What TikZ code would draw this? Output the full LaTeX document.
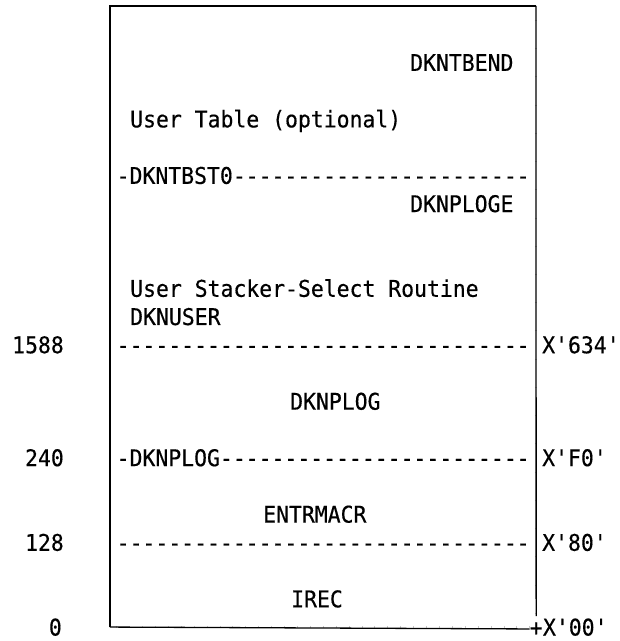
\documentclass[tikz,border=0pt]{standalone}
\usepackage{fontspec}
\setmonofont[FakeStretch=0.932, FakeBold=0.4]{DejaVu Sans Mono}
\usetikzlibrary{positioning}

\tikzset{
  cell/.style={font=\ttfamily\fontsize{23}{27}\selectfont, inner sep=0pt, anchor=base west},
  num/.style={cell, anchor=base east},
  frame/.style={line width=1.3pt},
  tick/.style={gray!45, line width=0.4pt}
}

\begin{document}
\begin{tikzpicture}[x=1pt, y=-28.23pt]
      %% one unit of y is one text row, row 0 is the top edge
      \useasboundingbox (0,-0.2125) rectangle (620,22.494);

      \coordinate (tl) at (110,0);
      \coordinate (tr) at (536,0);
      \coordinate (bl) at (110,22);

      %% inside the frame
      \node [cell] (tbend)   at (410,2.3)  {DKNTBEND};
      \node [cell] (usertab) at (130,4.3)  {User Table (optional)};
      \node [cell] (tbst)    at (116.5,6.3)  {-DKNTBST0-----------------------};
      \node [cell] (ploge)   at (410,7.3)  {DKNPLOGE};
      \node [cell] (stacker) at (130,10.3) {User Stacker-Select Routine};
      \node [cell] (nuser)   at (130,11.3) {DKNUSER};
      \node [cell] (line1588) at (116.5,12.3) {--------------------------------};
      \node [cell] (plog)    at (290,14.3) {DKNPLOG};
      \node [cell] (line240) at (116.5,16.3) {-DKNPLOG------------------------};
      \node [cell] (entr)    at (263,18.3) {ENTRMACR};
      \node [cell] (line128) at (116.5,19.3) {--------------------------------};
      \node [cell] (irec)    at (291,21.3) {IREC};

      %% offsets, decimal left and hex right
      \node [num] (n1588) at (64,12.3) {1588};
      \node [num] (n240)  at (64,16.3) {240};
      \node [num] (n128)  at (64,19.3) {128};
      \node [num] (n0)    at (62,22.3) {0};
      \node [cell] (h634) at (542,12.3) {X'634'};
      \node [cell] (hF0)  at (542,16.3) {X'F0'};
      \node [cell] (h80)  at (542,19.3) {X'80'};
      \node [cell] (corner) at (529.5,22.3) {+};
      \node [cell] (h00)  at (corner.base east) {X'00'};

      %% small marks where the rows and columns meet the frame
      \foreach \r in {0,...,21} {
        \draw [tick] (108.8,\r+0.5) -- ++(2.4pt,0pt);
        \draw [tick] (534.8,\r+0.5) -- ++(2.4pt,0pt);
      }
      \foreach \k in {0,...,32} {
        \draw [tick] (110+12.91*\k+6.45,0) ++(0pt,1.2pt) -- ++(0pt,-2.4pt);
        \draw [tick] (110+12.91*\k+6.45,22) ++(0pt,1.2pt) -- ++(0pt,-2.4pt);
      }

      %% frame
      \draw [frame] (bl) -- (tl) -- (tr);
      \draw [frame, shorten >=6pt] (tr) -- (corner.north);
      \draw [frame] (bl) -- (corner.west);
\end{tikzpicture}
\end{document}
